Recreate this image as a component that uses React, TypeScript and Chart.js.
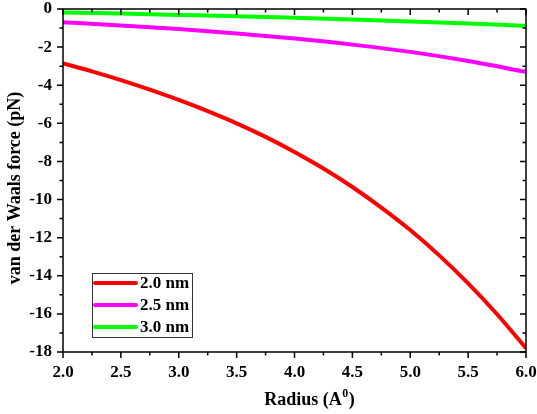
import React, { useEffect, useRef } from "react";
import { Chart, registerables } from "chart.js";

Chart.register(...registerables);

const radiusFine = [2.0, 2.25, 2.5, 2.75, 3.0, 3.25, 3.5, 3.75, 4.0, 4.25, 4.5, 4.75, 5.0, 5.25, 5.5, 5.75, 6.0];
const force20 = [-2.85, -3.27, -3.73, -4.23, -4.77, -5.36, -6.0, -6.71, -7.5, -8.37, -9.34, -10.42, -11.6, -12.93, -14.4, -16.02, -17.8];

const radius = [2.0, 2.5, 3.0, 3.5, 4.0, 4.5, 5.0, 5.5, 6.0];
const force25 = [-0.7, -0.86, -1.05, -1.28, -1.55, -1.87, -2.25, -2.73, -3.3];
const force30 = [-0.18, -0.24, -0.31, -0.38, -0.46, -0.55, -0.65, -0.76, -0.89];

const seriesLabels = ["2.0 nm", "2.5 nm", "3.0 nm"];
const seriesColors = ["#ff0000", "#ff00ff", "#00ff00"];

const xMajorTicks = [2.0, 2.5, 3.0, 3.5, 4.0, 4.5, 5.0, 5.5, 6.0];
const xMinorTicks = [2.25, 2.75, 3.25, 3.75, 4.25, 4.75, 5.25, 5.75];
const yMajorTicks = [0, -2, -4, -6, -8, -10, -12, -14, -16, -18];
const yMinorTicks = [-1, -3, -5, -7, -9, -11, -13, -15, -17];

const yTitle = "van der Waals force (pN)";
const xTitleMain = "Radius (A";
const xTitleSup = "0";
const xTitleEnd = ")";

const FONT = "'Liberation Serif', 'Times New Roman', serif";

const framePlugin = {
  id: "frameTicksTitles",
  afterDraw(chart: any) {
    const ctx = chart.ctx as CanvasRenderingContext2D;
    const { left, right, top, bottom } = chart.chartArea;
    const xs = chart.scales.x;
    const ys = chart.scales.y;
    ctx.save();
    ctx.strokeStyle = "#000";
    ctx.lineWidth = 1.5;
    ctx.strokeRect(left, top, right - left, bottom - top);
    const major = 6;
    const minor = 3.5;
    ctx.beginPath();
    for (const v of xMajorTicks) {
      const px = xs.getPixelForValue(v);
      ctx.moveTo(px, bottom); ctx.lineTo(px, bottom + major);
      ctx.moveTo(px, top); ctx.lineTo(px, top + major);
    }
    for (const v of xMinorTicks) {
      const px = xs.getPixelForValue(v);
      ctx.moveTo(px, bottom); ctx.lineTo(px, bottom + minor);
      ctx.moveTo(px, top); ctx.lineTo(px, top + minor);
    }
    for (const v of yMajorTicks) {
      const py = ys.getPixelForValue(v);
      ctx.moveTo(left, py); ctx.lineTo(left - major, py);
      ctx.moveTo(right, py); ctx.lineTo(right - major, py);
    }
    for (const v of yMinorTicks) {
      const py = ys.getPixelForValue(v);
      ctx.moveTo(left, py); ctx.lineTo(left - minor, py);
      ctx.moveTo(right, py); ctx.lineTo(right - minor, py);
    }
    ctx.stroke();

    // Y title
    ctx.fillStyle = "#000";
    ctx.font = `bold 18px ${FONT}`;
    ctx.textAlign = "center";
    ctx.textBaseline = "middle";
    ctx.save();
    ctx.translate(15, 188);
    ctx.rotate(-Math.PI / 2);
    ctx.fillText(yTitle, 0, 0);
    ctx.restore();

    // X title with superscript
    ctx.textAlign = "left";
    ctx.textBaseline = "alphabetic";
    ctx.font = `bold 18px ${FONT}`;
    const w1 = ctx.measureText(xTitleMain).width;
    const w3 = ctx.measureText(xTitleEnd).width;
    ctx.font = `bold 12px ${FONT}`;
    const w2 = ctx.measureText(xTitleSup).width;
    const total = w1 + w2 + w3 + 1;
    const cx = 309.5;
    const baseY = 405;
    let x0 = cx - total / 2;
    ctx.font = `bold 18px ${FONT}`;
    ctx.fillText(xTitleMain, x0, baseY);
    x0 += w1 + 0.5;
    ctx.font = `bold 12px ${FONT}`;
    ctx.fillText(xTitleSup, x0, baseY - 8);
    x0 += w2 + 0.5;
    ctx.font = `bold 18px ${FONT}`;
    ctx.fillText(xTitleEnd, x0, baseY);

    // Legend
    const lx = left + 29;
    const ly = bottom - 79;
    ctx.strokeStyle = "#333";
    ctx.lineWidth = 1;
    ctx.strokeRect(lx + 0.5, ly + 0.5, 100, 64);
    ctx.font = `bold 17px ${FONT}`;
    ctx.textBaseline = "middle";
    chart.data.datasets.forEach((ds: any, i: number) => {
      const ry = ly + 10 + i * 22;
      ctx.strokeStyle = ds.borderColor;
      ctx.lineWidth = 4;
      ctx.lineCap = "round";
      ctx.beginPath();
      ctx.moveTo(lx + 3, ry);
      ctx.lineTo(lx + 44, ry);
      ctx.stroke();
      ctx.fillStyle = "#000";
      ctx.fillText(ds.label, lx + 48, ry + 1);
    });
    ctx.restore();
  },
};

export default function App() {
  const ref = useRef<HTMLCanvasElement | null>(null);
  useEffect(() => {
    document.body.style.margin = "0";
    const toPts = (xs: number[], ys: number[]) => xs.map((x, i) => ({ x, y: ys[i] }));
    const chart = new Chart(ref.current as HTMLCanvasElement, {
      type: "line",
      data: {
        datasets: [
          { label: seriesLabels[0], data: toPts(radiusFine, force20), borderColor: seriesColors[0], backgroundColor: seriesColors[0] },
          { label: seriesLabels[1], data: toPts(radius, force25), borderColor: seriesColors[1], backgroundColor: seriesColors[1] },
          { label: seriesLabels[2], data: toPts(radius, force30), borderColor: seriesColors[2], backgroundColor: seriesColors[2] },
        ],
      },
      options: {
        animation: false,
        responsive: false,
        devicePixelRatio: 1,
        layout: { padding: { top: 9, right: 11, left: 0, bottom: 0 } },
        elements: {
          point: { radius: 0, hoverRadius: 0 },
          line: { borderWidth: 4, cubicInterpolationMode: "monotone", fill: false },
        },
        plugins: { legend: { display: false }, tooltip: { enabled: false } },
        scales: {
          x: {
            type: "linear",
            min: 2,
            max: 6,
            grid: { display: false, drawTicks: false },
            border: { display: false },
            afterFit: (s: any) => { s.height = 62; s.paddingLeft = 0; s.paddingRight = 0; },
            afterBuildTicks: (s: any) => { s.ticks = xMajorTicks.map((v) => ({ value: v })); },
            ticks: {
              padding: 10,
              color: "#000",
              autoSkip: false,
              maxRotation: 0,
              font: { family: FONT, size: 17, weight: "bold" },
              callback: (v: any) => Number(v).toFixed(1),
            },
          },
          y: {
            type: "linear",
            min: -18,
            max: 0,
            grid: { display: false, drawTicks: false },
            border: { display: false },
            afterFit: (s: any) => { s.width = 63; s.paddingTop = 0; s.paddingBottom = 0; },
            afterBuildTicks: (s: any) => { s.ticks = yMajorTicks.map((v) => ({ value: v })); },
            ticks: {
              padding: 11,
              color: "#000",
              autoSkip: false,
              font: { family: FONT, size: 17, weight: "bold" },
              callback: (v: any) => String(Math.round(Number(v))),
            },
          },
        },
      } as any,
      plugins: [framePlugin],
    });
    return () => chart.destroy();
  }, []);
  return (
    <div style={{ width: 537, height: 414, background: "#fff" }}>
      <canvas ref={ref} width={537} height={414} style={{ display: "block" }} />
    </div>
  );
}
